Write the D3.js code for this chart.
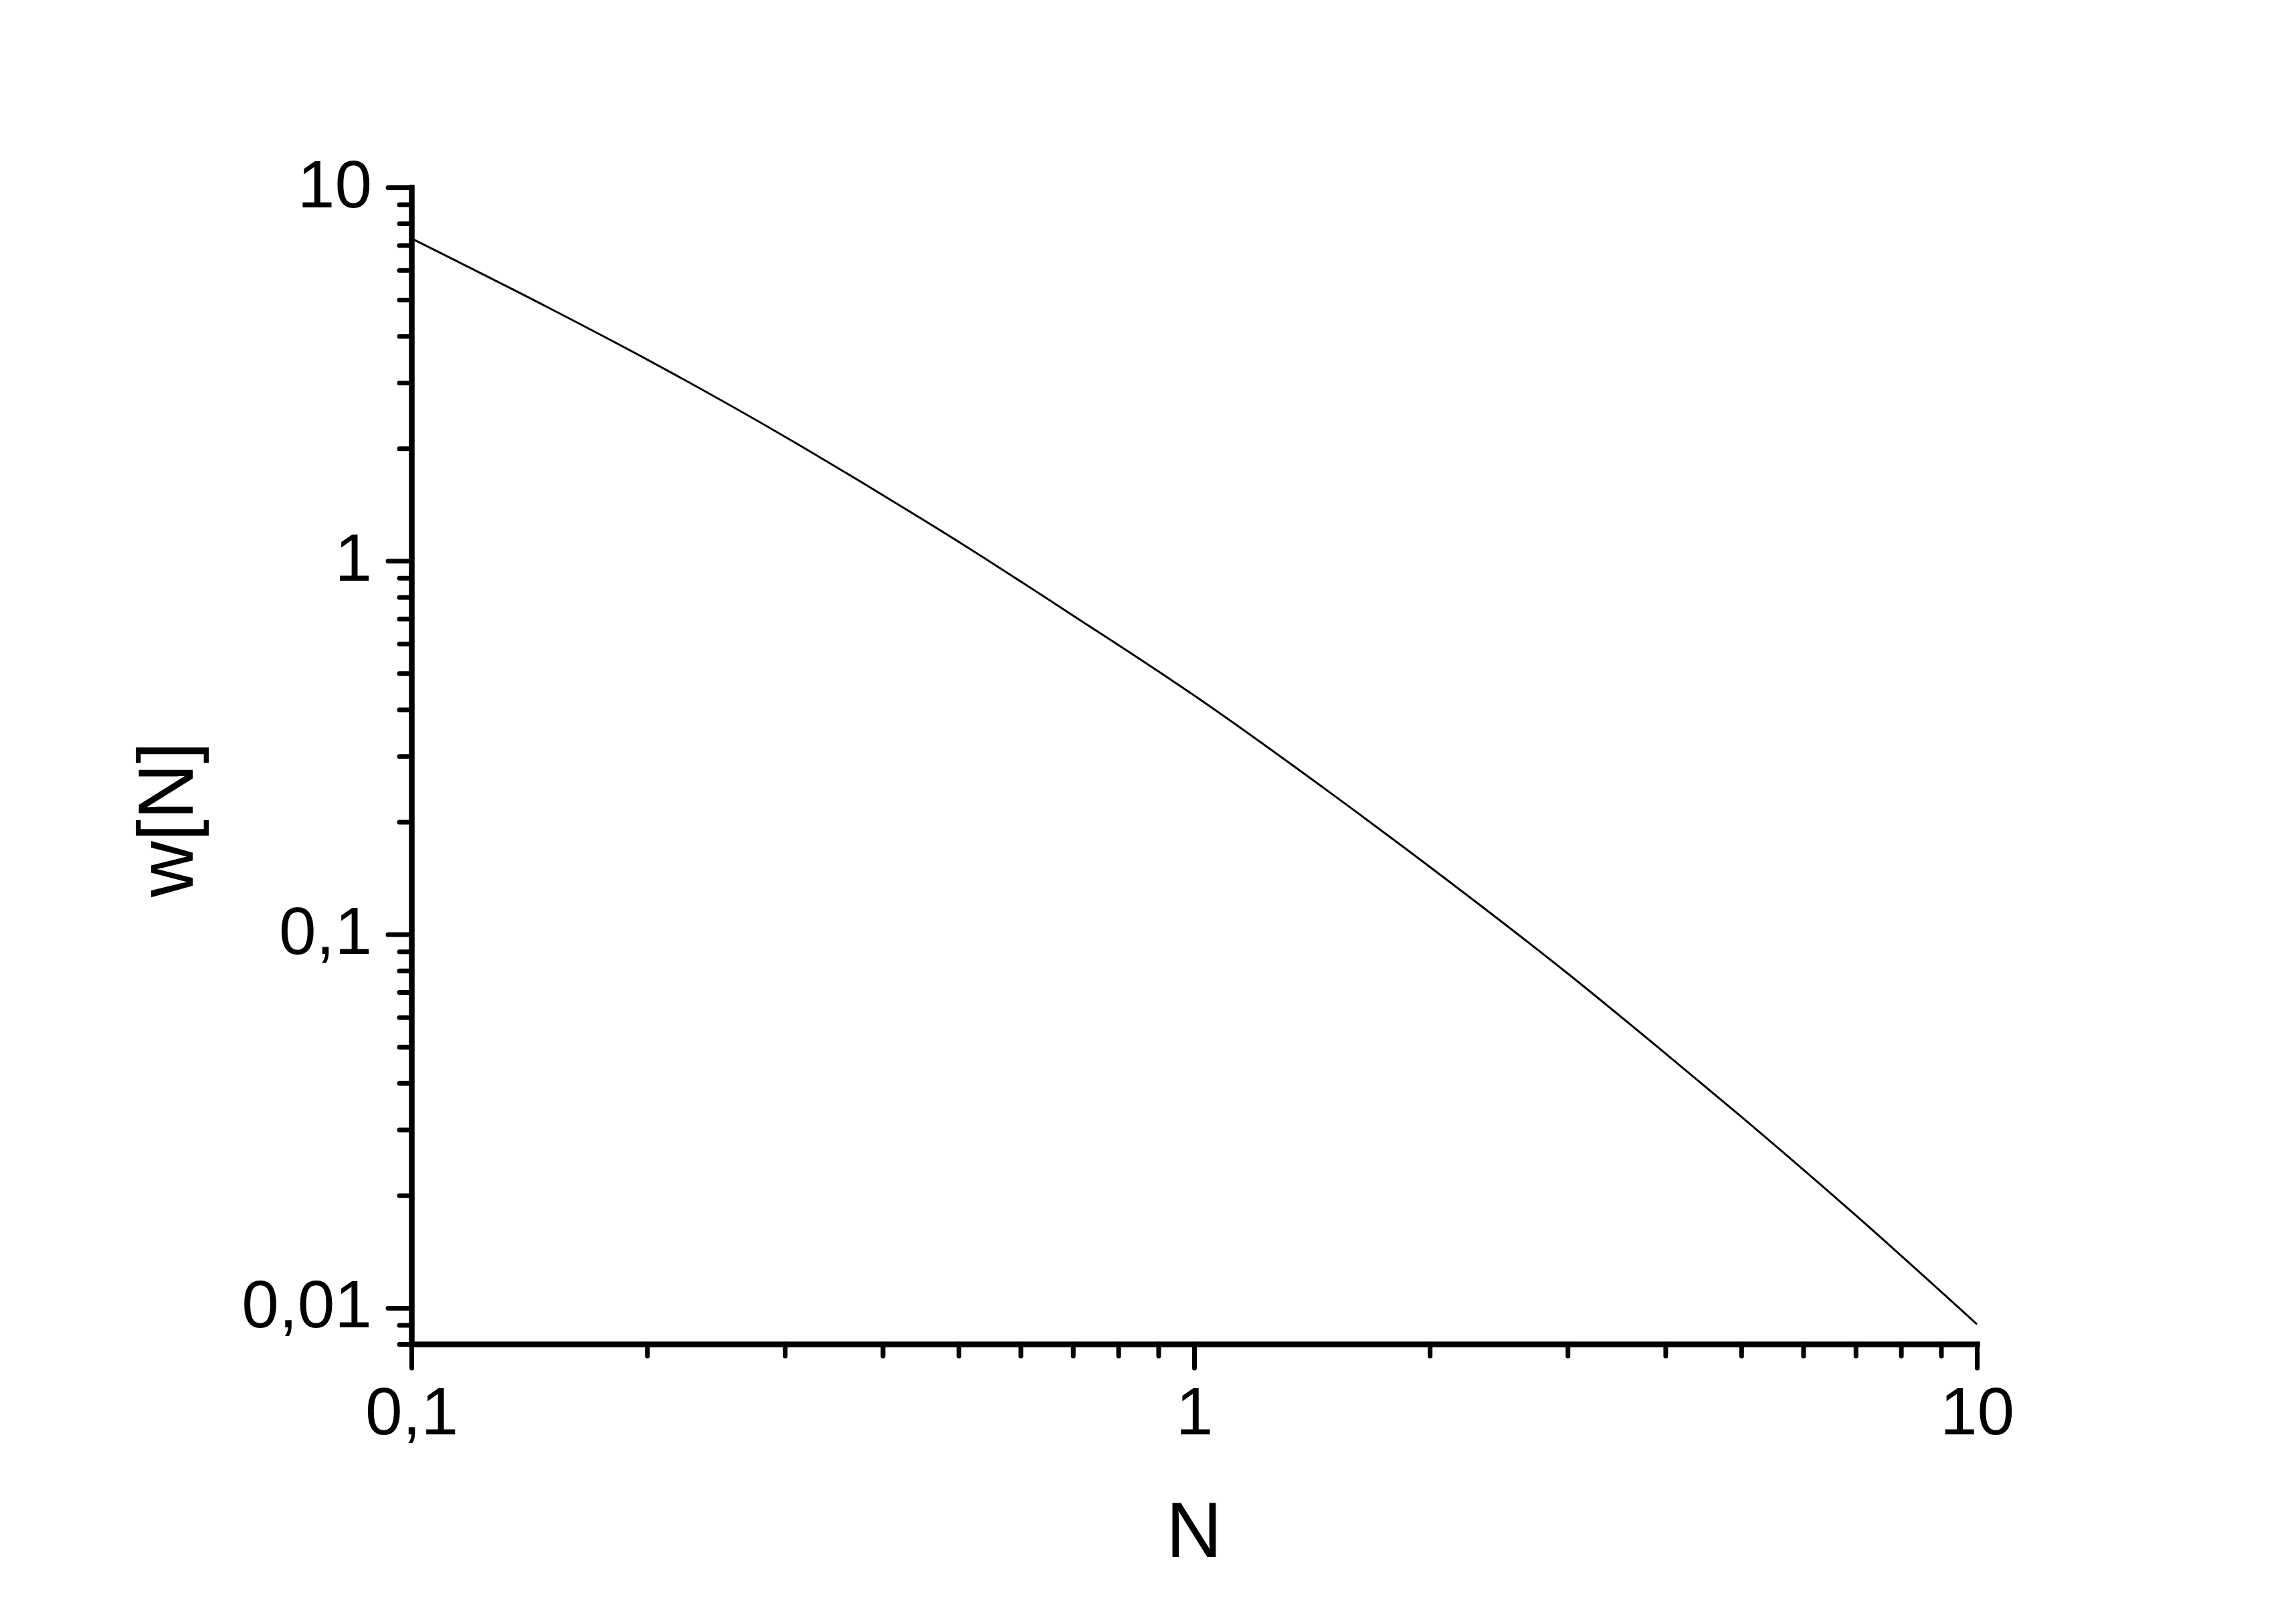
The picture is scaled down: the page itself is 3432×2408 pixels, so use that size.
<!DOCTYPE html>
<html>
<head>
<meta charset="utf-8">
<script src="https://cdn.jsdelivr.net/npm/d3@7"></script>
<style>
  html, body { margin: 0; padding: 0; background: #fff; }
  svg { display: block; }
</style>
</head>
<body>
<div id="chart"></div>
<script>
// values
const nValues = [0.1, 0.15, 0.2, 0.3, 0.4, 0.5, 0.7, 1, 1.5, 2, 3, 4, 5, 7, 10];
const wValues = [7.3, 4.75, 3.46, 2.15, 1.50, 1.125, 0.714, 0.436, 0.2375, 0.1516, 0.0786, 0.048, 0.0325, 0.0177, 0.00904];

const xMajor = [0.1, 1, 10];
const xMajorLabels = ['0,1', '1', '10'];
const xMinor = [0.2, 0.3, 0.4, 0.5, 0.6, 0.7, 0.8, 0.9, 2, 3, 4, 5, 6, 7, 8, 9];

const yMajor = [0.01, 0.1, 1, 10];
const yMajorLabels = ['0,01', '0,1', '1', '10'];
const yMinor = [0.008, 0.009, 0.02, 0.03, 0.04, 0.05, 0.06, 0.07, 0.08, 0.09,
                0.2, 0.3, 0.4, 0.5, 0.6, 0.7, 0.8, 0.9, 2, 3, 4, 5, 6, 7, 8, 9];

const width = 3432
    , height = 2408
    , plotLeft = 615
    , plotRight = 2955
    , plotTop = 280
    , plotBottom = 2009
    , font = 'Arial, "Liberation Sans", sans-serif'
    ;

const svg = d3.select('#chart')
  .append('svg')
  .attr('width', width)
  .attr('height', height)
  .style('background', '#fff');

const x = d3.scaleLog().domain([0.1, 10]).range([plotLeft, plotRight]);
const y = d3.scaleLog().domain([0.008, 10]).range([plotBottom, plotTop]);

function styleAxis(g, w) {
  g.select('.domain').attr('stroke', '#000').attr('stroke-width', 8).attr('stroke-linecap', 'square');
  g.selectAll('.tick line').attr('stroke', '#000').attr('stroke-width', w).attr('stroke-linecap', 'round');
  g.selectAll('.tick text')
    .attr('fill', '#000')
    .style('font-family', font)
    .style('font-size', '100px');
}

// minor ticks first, majors on top
svg.append('g')
  .attr('transform', `translate(0,${plotBottom})`)
  .call(d3.axisBottom(x).tickValues(xMinor).tickSize(18).tickSizeOuter(0).tickFormat(''))
  .call(g => styleAxis(g, 7));

svg.append('g')
  .attr('transform', `translate(0,${plotBottom})`)
  .call(d3.axisBottom(x).tickValues(xMajor).tickSize(36).tickSizeOuter(0).tickPadding(28)
    .tickFormat((d, i) => xMajorLabels[i]))
  .call(g => styleAxis(g, 7));

svg.append('g')
  .attr('transform', `translate(${plotLeft},0)`)
  .call(d3.axisLeft(y).tickValues(yMinor).tickSize(18).tickSizeOuter(0).tickFormat(''))
  .call(g => styleAxis(g, 7));

svg.append('g')
  .attr('transform', `translate(${plotLeft},0)`)
  .call(d3.axisLeft(y).tickValues(yMajor).tickSize(35).tickSizeOuter(0).tickPadding(24)
    .tickFormat((d, i) => yMajorLabels[i]))
  .call(g => styleAxis(g, 7))
  .call(g => g.selectAll('.tick text').attr('dy', '0.29em'));

const line = d3.line()
  .x((d, i) => x(nValues[i]))
  .y(d => y(d))
  .curve(d3.curveMonotoneX);

svg.append('path')
  .datum(wValues)
  .attr('fill', 'none')
  .attr('stroke', '#000')
  .attr('stroke-width', 3)
  .attr('d', line);

svg.append('text')
  .attr('x', (plotLeft + plotRight) / 2)
  .attr('y', 2327)
  .attr('text-anchor', 'middle')
  .style('font-family', font)
  .style('font-size', '116px')
  .text('N');

svg.append('text')
  .attr('transform', 'translate(288,1225) rotate(-90)')
  .attr('text-anchor', 'middle')
  .style('font-family', font)
  .style('font-size', '116px')
  .text('w[N]');
</script>
</body>
</html>
